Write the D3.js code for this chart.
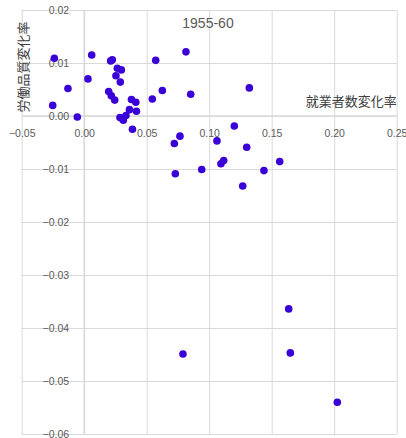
<!DOCTYPE html>
<html>
<head>
<meta charset="utf-8">
<script src="https://cdn.jsdelivr.net/npm/d3@7"></script>
<style>
  body { margin: 0; background: #fff; }
  text { font-family: "Liberation Sans", sans-serif; }
</style>
</head>
<body>
<script>
const title = "1955-60";
const xTitle = "就業者数変化率";
const yTitle = "労働品質変化率";

const xTicks = [-0.05, 0, 0.05, 0.10, 0.15, 0.20, 0.25];
const yTicks = [0.02, 0.01, 0, -0.01, -0.02, -0.03, -0.04, -0.05, -0.06];

// employment change rate
const xValues = [
  -0.0239, 0.0060, 0.0212, 0.0225, 0.0265, 0.0297, 0.0030, 0.0254, 0.0289, -0.0130,
  0.0196, 0.0217, 0.0244, 0.0378, 0.0413, -0.0252, -0.0055, 0.0286, 0.0313, 0.0334,
  0.0362, 0.0418, 0.0386, 0.0814, 0.0572, 0.0625, 0.0852, 0.0545, 0.0766, 0.1201,
  0.1321, 0.0721, 0.1062, 0.1300, 0.1116, 0.1094, 0.1564, 0.0729, 0.0940, 0.1438,
  0.1268, 0.1636, 0.0790, 0.1649, 0.2025
];
// labour quality change rate
const yValues = [
  0.0109, 0.0115, 0.0104, 0.0106, 0.0090, 0.0087, 0.0070, 0.0076, 0.0064, 0.0052,
  0.0046, 0.0038, 0.0030, 0.0031, 0.0026, 0.0020, -0.0002, -0.0003, -0.0008, 0.0001,
  0.0012, 0.0009, -0.0025, 0.0121, 0.0105, 0.0048, 0.0041, 0.0032, -0.0038, -0.0019,
  0.0053, -0.0052, -0.0047, -0.0059, -0.0084, -0.0090, -0.0086, -0.0109, -0.0101, -0.0103,
  -0.0132, -0.0364, -0.0449, -0.0447, -0.0540
];

const dimensions = {
    width: 406,
    height: 438,
    plot: { left: 21.7, right: 396.7, top: 10, bottom: 434 },
};

const svg = d3.select("body").append("svg")
    .attr("width", dimensions.width)
    .attr("height", dimensions.height);

const xScale = d3.scaleLinear()
    .domain([-0.05, 0.25])
    .range([dimensions.plot.left, dimensions.plot.right]);

const yScale = d3.scaleLinear()
    .domain([-0.06, 0.02])
    .range([dimensions.plot.bottom, dimensions.plot.top]);

const fmt = d3.format(".2f");

// gridlines
const gridX = svg.append("g")
    .attr("transform", `translate(0,${dimensions.plot.bottom})`)
    .call(d3.axisBottom(xScale).tickValues(xTicks)
        .tickSize(-(dimensions.plot.bottom - dimensions.plot.top)).tickFormat(""));
gridX.select(".domain").remove();
gridX.selectAll("line").attr("stroke", "#d9d9d9");

const gridY = svg.append("g")
    .attr("transform", `translate(${dimensions.plot.left},0)`)
    .call(d3.axisLeft(yScale).tickValues(yTicks)
        .tickSize(-(dimensions.plot.right - dimensions.plot.left)).tickFormat(""));
gridY.select(".domain").remove();
gridY.selectAll("line").attr("stroke", "#d9d9d9");

// axis lines through zero
svg.append("line")
    .attr("x1", xScale(0)).attr("x2", xScale(0))
    .attr("y1", dimensions.plot.top).attr("y2", dimensions.plot.bottom)
    .attr("stroke", "#d9d9d9").attr("stroke-width", 1.5);
svg.append("line")
    .attr("x1", dimensions.plot.left).attr("x2", dimensions.plot.right)
    .attr("y1", yScale(0)).attr("y2", yScale(0))
    .attr("stroke", "#d9d9d9").attr("stroke-width", 1.5);

// tick labels
const xAxis = svg.append("g")
    .attr("transform", `translate(0,${yScale(0)})`)
    .call(d3.axisBottom(xScale).tickValues(xTicks).tickSize(0).tickPadding(13.5).tickFormat(fmt));
xAxis.select(".domain").remove();
xAxis.selectAll("text")
    .attr("fill", "#595959")
    .style("font-size", "10.5px")
    .style("font-family", "Liberation Sans, sans-serif");

const yAxis = svg.append("g")
    .attr("transform", `translate(${xScale(0)},0)`)
    .call(d3.axisLeft(yScale).tickValues(yTicks).tickSize(0).tickPadding(15).tickFormat(fmt));
yAxis.select(".domain").remove();
yAxis.selectAll("text")
    .attr("fill", "#595959")
    .style("font-size", "10.5px")
    .style("font-family", "Liberation Sans, sans-serif");

// titles
svg.append("text")
    .attr("x", 208).attr("y", 28)
    .attr("text-anchor", "middle")
    .attr("fill", "#595959")
    .style("font-size", "14px")
    .text(title);

svg.append("text")
    .attr("x", dimensions.plot.right).attr("y", 106)
    .attr("text-anchor", "end")
    .attr("fill", "#404040")
    .style("font-family", "Noto Sans CJK JP")
    .style("font-size", "13px")
    .text(xTitle);

svg.append("text")
    .attr("transform", `translate(28,67) rotate(-90)`)
    .attr("text-anchor", "middle")
    .attr("fill", "#404040")
    .style("font-family", "Noto Sans CJK JP")
    .style("font-size", "13px")
    .text(yTitle);

// points
svg.append("g")
    .selectAll("circle")
    .data(xValues.map((x, i) => ({ x, y: yValues[i] })))
    .join("circle")
    .attr("cx", d => xScale(d.x))
    .attr("cy", d => yScale(d.y))
    .attr("r", 3.8)
    .attr("fill", "#3a00d8");
</script>
</body>
</html>
